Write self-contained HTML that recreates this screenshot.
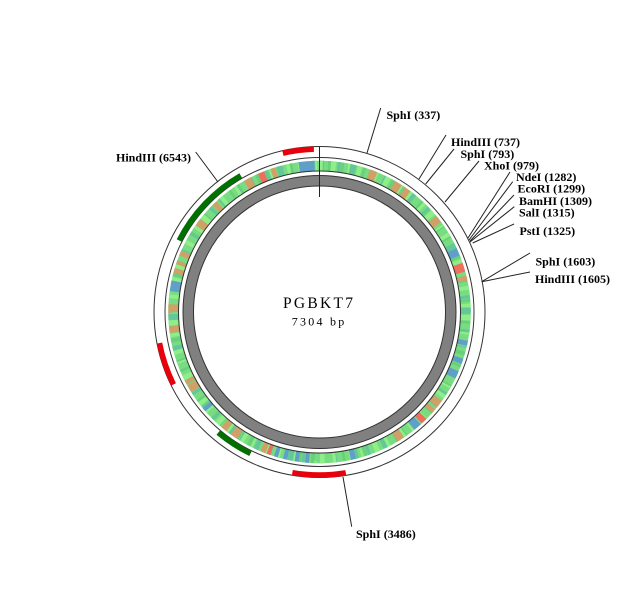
<!DOCTYPE html>
<html>
<head>
<meta charset="utf-8">
<style>
html,body{margin:0;padding:0;background:#fff;}
svg{display:block;}
text{font-family:"Liberation Serif",serif;fill:#000;}
.l{font-size:12px;font-weight:bold;}
.c{fill:none;stroke:#333;stroke-width:1;}
.b{fill:none;stroke-width:10.5;}
</style>
</head>
<body>
<svg width="632" height="595" viewBox="0 0 632 595" xmlns="http://www.w3.org/2000/svg">
<rect width="632" height="595" fill="#fff"/>
<circle class="c" cx="319.5" cy="312" r="165.5"/>
<circle class="c" cx="319.5" cy="312" r="154.5"/>
<g transform="rotate(-90 319.5 312)" style="filter:blur(.25px)">
<circle class="b" cx="319.5" cy="312" r="146" stroke="#78dc82"/>
<circle class="b" cx="319.5" cy="312" r="146" pathLength="360" stroke="#68d078" stroke-dasharray="1 2.3 1.5 3.7"/>
<circle class="b" cx="319.5" cy="312" r="146" pathLength="360" stroke="#63c79c" stroke-dasharray="1.8 5.3 1.2 3.7 2.2 6.1 .9 4.3"/>
<circle class="b" cx="319.5" cy="312" r="146" pathLength="360" stroke="#8fee88" stroke-dasharray="1.3 3.1 2 4.7 .8 2.9 1.6 5.3"/>
<circle class="b" cx="319.5" cy="312" r="146" pathLength="360" stroke="#cfa068" stroke-dasharray="0 19.5 3 7.5 3 1.5 2.5 13.5 3 22.5 2 48 3 1 2 14 3 52 2 10 3 2 2.5 17.5 3 .5 1.5 19 2.5 5.5 3 12 2 1.5 1.5 2 2 11 3 7 2 13 3 8 2 17"/>
<circle class="b" cx="319.5" cy="312" r="146" pathLength="360" stroke="#5f9fc8" stroke-dasharray="0 65 3 33 2 5 2 3 3 22 3 25 2 16 1.5 2.5 1.5 3 1.5 2 1.5 31.5 1.5 47.5 4 70 6 2"/>
<circle class="b" cx="319.5" cy="312" r="146" pathLength="360" stroke="#ee6f5e" stroke-dasharray="0 71 3.5 60.5 2.5 61.5 1.5 135.5 2.5 21.5"/>
</g>
<circle class="c" cx="319.5" cy="312" r="141" stroke="#111"/>
<circle cx="319.5" cy="312" r="131.2" fill="none" stroke="#808080" stroke-width="10.5"/>
<circle class="c" cx="319.5" cy="312" r="136.5"/>
<circle class="c" cx="319.5" cy="312" r="126"/>
<g transform="rotate(-90 319.5 312)">
<circle cx="319.5" cy="312" r="163" fill="none" stroke="#e8000c" stroke-width="5.5" pathLength="360" stroke-dasharray="0 170.7 18.9 54 15.4 88 11 2"/>
<circle cx="319.5" cy="312" r="157.5" fill="none" stroke="#007000" stroke-width="5.5" pathLength="360" stroke-dasharray="0 206 14 77 33 30"/>
</g>
<g stroke="#222" stroke-width="1" fill="none">
<path d="M319.5 147V197"/>
<path d="M367 153L380.7 108"/>
<path d="M419 179L446 135"/>
<path d="M425.7 184L454 149"/>
<path d="M445 202L479 161"/>
<path d="M468 238L510 172"/>
<path d="M469 240L512.7 181.7"/>
<path d="M470 241L514 195"/>
<path d="M470 242L514.3 206.7"/>
<path d="M472.7 243L514 224"/>
<path d="M481.7 281.7L530 253"/>
<path d="M481.7 281.7L530 272"/>
<path d="M343 477L351.7 526.7"/>
<path d="M218 182L195.7 152"/>
</g>
<text class="l" x="386.5" y="119">SphI (337)</text>
<text class="l" x="451" y="146">HindIII (737)</text>
<text class="l" x="460.5" y="158">SphI (793)</text>
<text class="l" x="484" y="169.5">XhoI (979)</text>
<text class="l" x="516" y="181">NdeI (1282)</text>
<text class="l" x="517.5" y="192.7">EcoRI (1299)</text>
<text class="l" x="519" y="205">BamHI (1309)</text>
<text class="l" x="519" y="216.7">SalI (1315)</text>
<text class="l" x="519.5" y="235">PstI (1325)</text>
<text class="l" x="535.5" y="265.7">SphI (1603)</text>
<text class="l" x="535" y="283">HindIII (1605)</text>
<text class="l" x="356" y="538">SphI (3486)</text>
<text class="l" x="116" y="161.7">HindIII (6543)</text>
<text x="283" y="308" font-size="15.5" textLength="70">PGBKT7</text>
<text x="291.7" y="325.7" font-size="12" textLength="52.5">7304 bp</text>
</svg>
</body>
</html>
